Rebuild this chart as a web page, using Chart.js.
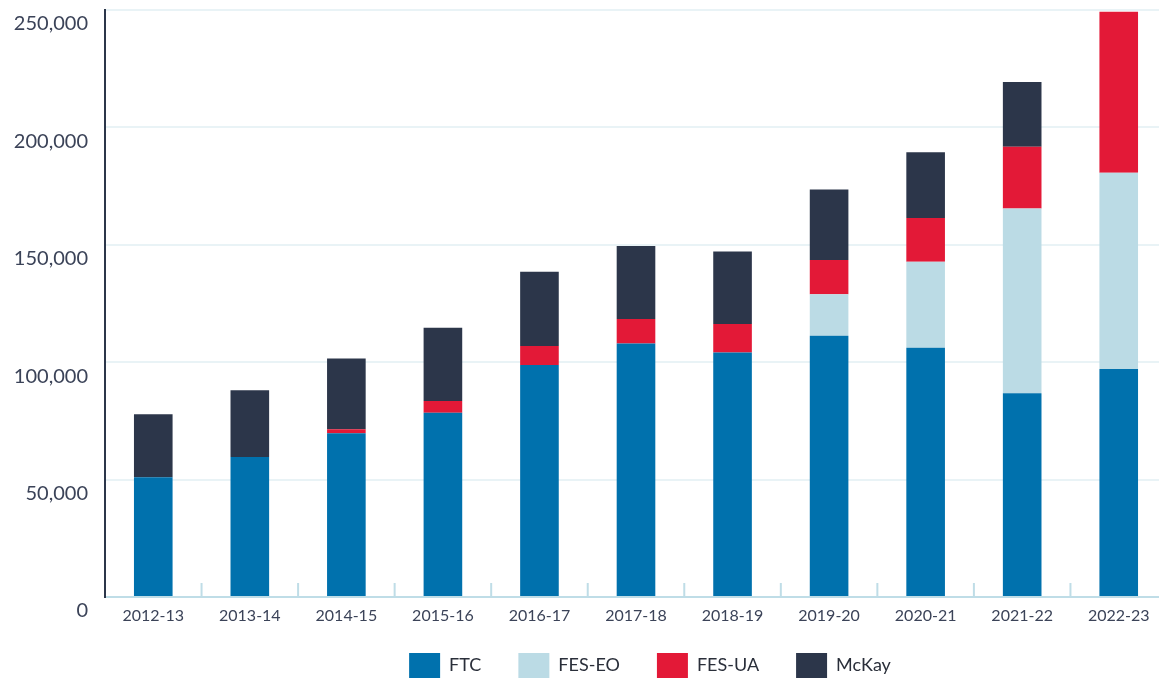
<!DOCTYPE html>
<html>
<head>
<meta charset="utf-8">
<script src="https://cdn.jsdelivr.net/npm/chart.js@4"></script>
<style>
  html, body { margin: 0; padding: 0; background: #fff; overflow: hidden; }
  #wrap { width: 1167px; height: 680px; position: relative; }
</style>
</head>
<body>
<div id="wrap"><canvas id="chart"></canvas></div>
<script>
const years = ['2012-13', '2013-14', '2014-15', '2015-16', '2016-17', '2017-18',
  '2018-19', '2019-20', '2020-21', '2021-22', '2022-23'];

const ftc   = [51000, 59600, 69700, 78500, 98800, 108000, 104100, 111300, 106200, 86800, 97100];
const fesEo = [0, 0, 0, 0, 0, 0, 0, 17600, 36600, 78700, 83600];
const fesUa = [0, 0, 1700, 5000, 8100, 10400, 12200, 14600, 18600, 26300, 68600];
const mckay = [26800, 28500, 30200, 31200, 31600, 31100, 30800, 30100, 28000, 27500, 0];

const yTicks = [0, 50000, 100000, 150000, 200000, 250000];

const FONT = 'Lato, "Noto Sans", sans-serif';

// little tick marks between categories, drawn upward from the x axis
const innerTicks = {
  id: 'innerTicks',
  afterDraw(chart) {
    const x = chart.scales.x;
    const bottom = chart.chartArea.bottom;
    const ctx = chart.ctx;
    ctx.save();
    ctx.strokeStyle = '#bfdde7';
    ctx.lineWidth = 2;
    for (let i = 1; i < years.length; i++) {
      const px = (x.getPixelForValue(i - 1) + x.getPixelForValue(i)) / 2;
      ctx.beginPath();
      ctx.moveTo(px, bottom - 14);
      ctx.lineTo(px, bottom);
      ctx.stroke();
    }
    ctx.restore();
  }
};

// nudge the legend up and a bit right, like the original
const legendNudge = {
  id: 'legendNudge',
  afterLayout(chart) {
    const lg = chart.legend;
    lg.top -= 9;
    lg.left += 14; lg.right += 14;
  }
};

new Chart(document.getElementById('chart'), {
  type: 'bar',
  plugins: [innerTicks, legendNudge],
  data: {
    labels: years,
    datasets: [
      { label: 'FTC', data: ftc, backgroundColor: '#0071ad' },
      { label: 'FES-EO', data: fesEo, backgroundColor: '#bbdbe5' },
      { label: 'FES-UA', data: fesUa, backgroundColor: '#e31937' },
      { label: 'McKay', data: mckay, backgroundColor: '#2c364a' }
    ]
  },
  options: {
    responsive: true,
    maintainAspectRatio: false,
    animation: false,
    datasets: { bar: { categoryPercentage: 1, barPercentage: 0.4, borderWidth: 0 } },
    layout: { padding: { top: 10, left: 0, right: 0, bottom: 0 } },
    scales: {
      x: {
        stacked: true,
        grid: { display: false, drawTicks: false },
        border: { color: '#bfdde7', width: 2 },
        ticks: { color: '#3b4358', font: { family: FONT, size: 16 }, padding: 9, maxRotation: 0 },
        afterFit(scale) { scale.height = 28; }
      },
      y: {
        stacked: true,
        min: 0,
        max: 250000,
        afterBuildTicks(scale) { scale.ticks = yTicks.map(v => ({ value: v })); },
        grid: { color: '#e9f3f6', lineWidth: 2, drawTicks: false },
        border: { color: '#2c364a', width: 2 },
        ticks: {
          color: '#3b4358',
          font: { family: FONT, size: 20 },
          padding: 17,
          labelOffset: 14,
          callback: v => v.toLocaleString('en-US')
        },
        afterFit(scale) {
          scale.width = 105;
          scale.paddingTop = 0;
          scale.paddingBottom = 0;
        }
      }
    },
    plugins: {
      tooltip: { enabled: false },
      legend: {
        position: 'bottom',
        fullSize: false,
        maxHeight: 55,
        labels: {
          boxWidth: 31,
          boxHeight: 25,
          padding: 37,
          color: '#2a2f3a',
          font: { family: FONT, size: 18 }
        }
      }
    }
  }
});
</script>
</body>
</html>
